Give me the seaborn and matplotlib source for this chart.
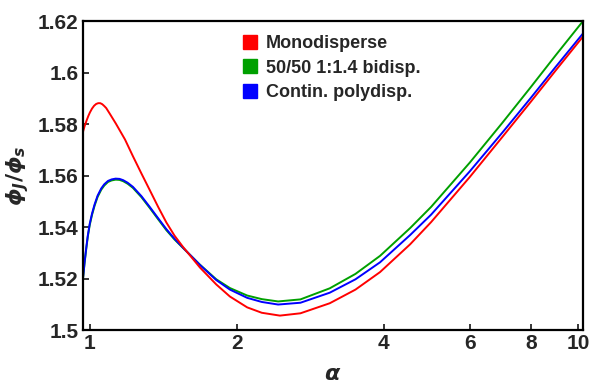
import pandas as pd
import seaborn as sns
import matplotlib.pyplot as plt
from matplotlib.lines import Line2D
from matplotlib.ticker import FixedLocator, FormatStrFormatter, NullLocator

# Values
alpha_mono = [0.968, 0.975, 0.985, 0.993, 1.0, 1.01, 1.02, 1.03, 1.04, 1.05, 1.06, 1.07,
              1.08, 1.10, 1.13, 1.18, 1.225, 1.275, 1.325, 1.38, 1.434, 1.49, 1.551, 1.68,
              1.815, 1.936, 2.1, 2.25, 2.45, 2.7, 3.1, 3.5, 3.93, 4.53, 5.0, 6.0, 7.0, 8.0,
              9.0, 10.24]
phi_mono = [1.5770, 1.5791, 1.5815, 1.5832, 1.5845, 1.5860, 1.5871, 1.5878, 1.5881, 1.5881,
            1.5877, 1.5870, 1.5862, 1.5838, 1.5802, 1.5740, 1.5675, 1.5608, 1.5545, 1.5478,
            1.5418, 1.5367, 1.5323, 1.5243, 1.5177, 1.5130, 1.5088, 1.5067, 1.5056, 1.5065,
            1.5104, 1.5157, 1.5225, 1.5333, 1.5419, 1.5594, 1.5750, 1.5886, 1.6008, 1.6140]

alpha_disp = [0.968, 0.975, 0.983, 0.99, 0.999, 1.01, 1.022, 1.037, 1.055, 1.07, 1.089,
              1.108, 1.129, 1.15, 1.17, 1.195, 1.225, 1.275, 1.325, 1.38, 1.434, 1.49,
              1.551, 1.68, 1.815, 1.936, 2.1, 2.25, 2.43, 2.7, 3.1, 3.5, 3.93, 4.53, 5.0,
              6.0, 7.0, 8.0, 9.0, 10.24]
phi_bi = [1.5200, 1.5259, 1.5316, 1.5362, 1.5407, 1.5447, 1.5482, 1.5517, 1.5545, 1.5561,
          1.5575, 1.5581, 1.5584, 1.5583, 1.5578, 1.5568, 1.5552, 1.5516, 1.5475, 1.5430,
          1.5388, 1.5352, 1.5319, 1.5254, 1.5197, 1.5163, 1.5134, 1.5120, 1.5111, 1.5119,
          1.5162, 1.5218, 1.5288, 1.5396, 1.5478, 1.5650, 1.5805, 1.5943, 1.6067, 1.6200]
phi_poly = [1.5201, 1.5262, 1.5320, 1.5366, 1.5412, 1.5452, 1.5487, 1.5522, 1.5550, 1.5566,
            1.5579, 1.5585, 1.5588, 1.5587, 1.5582, 1.5572, 1.5556, 1.5520, 1.5479, 1.5434,
            1.5392, 1.5355, 1.5320, 1.5253, 1.5194, 1.5157, 1.5125, 1.5109, 1.5099, 1.5106,
            1.5145, 1.5197, 1.5263, 1.5369, 1.5448, 1.5616, 1.5767, 1.5901, 1.6022, 1.6152]

labels = ['Monodisperse', '50/50 1:1.4 bidisp.', 'Contin. polydisp.']
colors = ['#ff0000', '#00a000', '#0000ff']
x_ticks = [1, 2, 4, 6, 8, 10]
y_ticks = [1.50, 1.52, 1.54, 1.56, 1.58, 1.60, 1.62]

df = pd.concat([
    pd.DataFrame({'alpha': alpha_mono, 'phi': phi_mono, 'kind': labels[0]}),
    pd.DataFrame({'alpha': alpha_disp, 'phi': phi_bi, 'kind': labels[1]}),
    pd.DataFrame({'alpha': alpha_disp, 'phi': phi_poly, 'kind': labels[2]}),
], ignore_index=True)

sns.set_style('white')
plt.rcParams['font.family'] = ['Liberation Sans', 'DejaVu Sans']
plt.rcParams['mathtext.fontset'] = 'custom'
plt.rcParams['mathtext.it'] = 'DejaVu Sans:italic:bold'
plt.rcParams['mathtext.rm'] = 'DejaVu Sans:bold'
plt.rcParams['mathtext.bf'] = 'DejaVu Sans:bold'

fig = plt.figure(figsize=(5.9, 3.86), dpi=100)
ax = fig.add_axes([0.1407, 0.145, 0.8475, 0.8005])

# bidisperse first, polydisperse over it, monodisperse on top
for name in [labels[1], labels[2], labels[0]]:
    sub = df[df['kind'] == name]
    sns.lineplot(data=sub, x='alpha', y='phi', color=colors[labels.index(name)],
                 linewidth=1.4, sort=False, estimator=None, ax=ax, legend=False)

ax.set_xscale('log')
ax.set_xlim(0.968, 10.24)
ax.set_ylim(1.5, 1.62)
ax.xaxis.set_major_locator(FixedLocator(x_ticks))
ax.xaxis.set_minor_locator(NullLocator())
ax.xaxis.set_major_formatter(FormatStrFormatter('%g'))
ax.set_yticks(y_ticks)
ax.yaxis.set_major_formatter(FormatStrFormatter('%g'))
ax.tick_params(direction='in', length=4, width=1.3, labelsize=15, pad=3,
               bottom=True, left=True, top=False, right=False)
for lab in ax.get_xticklabels() + ax.get_yticklabels():
    lab.set_fontweight('bold')
for sp in ax.spines.values():
    sp.set_linewidth(1.6)
    sp.set_color('black')

ax.set_xlabel(r'$\alpha$', fontsize=16, labelpad=8)
ax.set_ylabel(r'$\phi_J/\phi_s$', fontsize=16)
ax.yaxis.set_label_coords(-0.104, 0.5)

handles = [Line2D([], [], marker='s', linestyle='', color=c, markersize=10) for c in colors]
ax.legend(handles, labels, loc='upper left', bbox_to_anchor=(0.283, 1.0), frameon=False,
          prop={'weight': 'bold', 'size': 13}, handletextpad=0.3, labelspacing=0.4,
          handlelength=1.2, borderaxespad=0.4)

fig.savefig('out.png', dpi=100)
